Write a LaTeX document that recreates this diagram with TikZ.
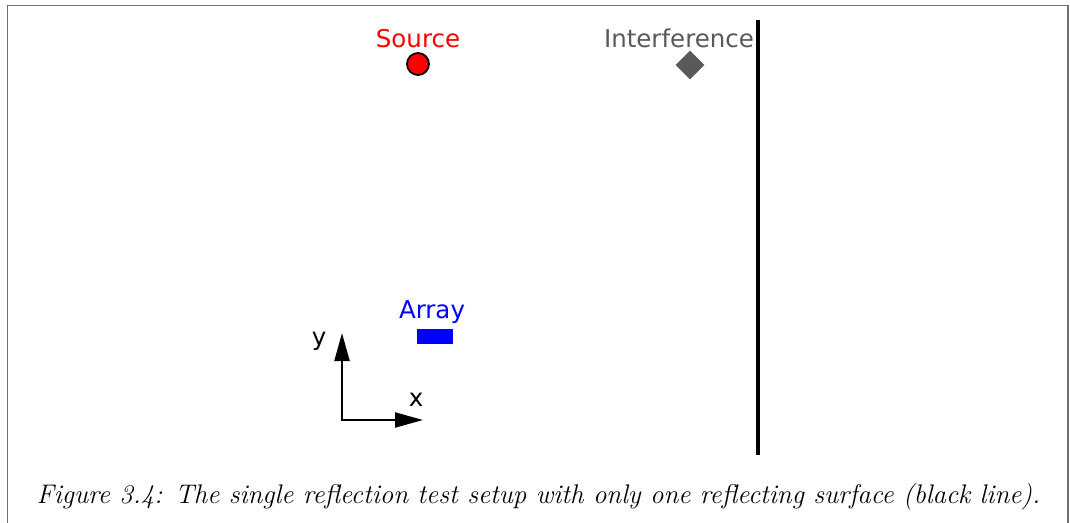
\documentclass[tikz,border=0pt]{standalone}
\usepackage{fontspec}
\newfontfamily\labelfont{DejaVu Sans}
\usetikzlibrary{shapes.geometric,arrows.meta}
\definecolor{framegray}{HTML}{707070}
\definecolor{intgray}{HTML}{595959}
\tikzset{
  lbl/.style={font=\labelfont\fontsize{24.5}{28}\selectfont, inner sep=0pt},
  axis/.style={line width=2pt, -{Triangle[length=28pt,width=15pt]}},
}
\begin{document}
\begin{tikzpicture}[x=1pt,y=-1pt]
\useasboundingbox (0,0) rectangle (1070,522);
% frame
\draw[framegray, line width=1.5pt] (7.5,530) -- (7.5,5.5) -- (1068,5.5) -- (1068,530);
% reflecting wall
\coordinate (wtop) at (758,20);
\coordinate (wbot) at (758,455);
\draw[line width=4pt] (wtop) -- (wbot);
% source
\node[circle, draw=black, fill=red, line width=1.8pt, minimum size=22pt, inner sep=0pt] (src) at (418,64) {};
\node[lbl, text=red, anchor=base] (srclbl) at (418,47) {Source};
% interference
\node[diamond, fill=intgray, minimum size=29pt, inner sep=0pt] (intf) at (690,65) {};
\node[lbl, text=intgray, anchor=base] (intlbl) at (679,47) {Interference};
% array
\node[rectangle, fill=blue, minimum width=36pt, minimum height=15pt, inner sep=0pt] (arr) at (435,336.5) {};
\node[lbl, text=blue, anchor=base] (arrlbl) at (432,318) {Array};
% axes
\coordinate (o) at (342,420);
\coordinate (ytip) at (342,333);
\coordinate (xtip) at (423,420);
\draw[axis] (o) -- (ytip);
\draw[axis] ([xshift=-1pt]o) -- (xtip);
\node[lbl, anchor=base] (ylbl) at (319,345) {y};
\node[lbl, anchor=base] (xlbl) at (416,406) {x};
% caption
\node[font=\fontsize{26.9}{30}\selectfont\itshape, inner sep=0pt, anchor=base] (cap) at (538.5,503) {Figure 3.4: The single reflection test setup with only one reflecting surface (black line).};
\end{tikzpicture}
\end{document}
